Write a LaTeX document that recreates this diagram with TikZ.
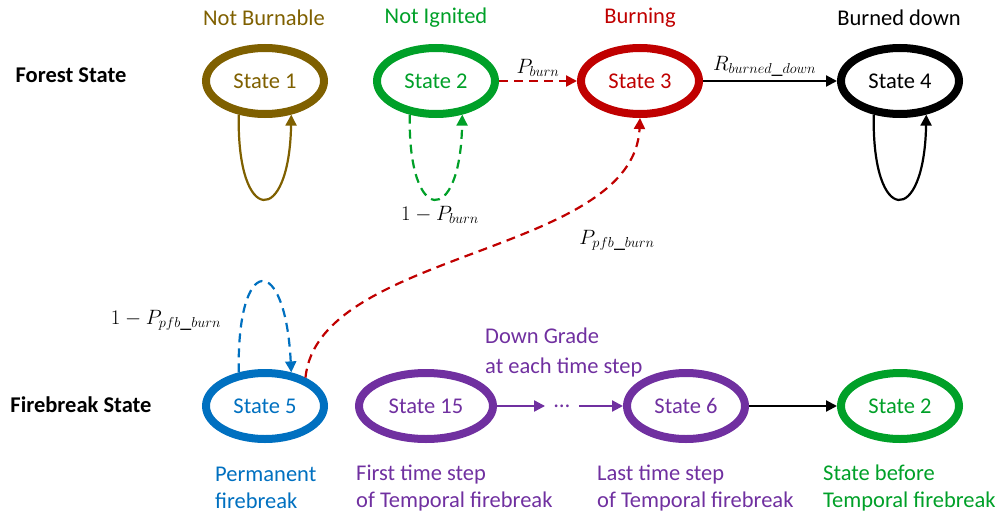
\documentclass[tikz,border=0pt]{standalone}
\usepackage{fontspec}
\setmainfont{Carlito}
\usetikzlibrary{shapes.geometric,arrows.meta}
\definecolor{cbrown}{RGB}{127,96,0}
\definecolor{cgreen}{RGB}{0,160,40}
\definecolor{cred}{RGB}{192,0,0}
\definecolor{cblue}{RGB}{0,112,192}
\definecolor{cpurple}{RGB}{112,48,160}
\begin{document}
\begin{tikzpicture}[x=1pt,y=-1pt,
  txt/.style={font=\fontsize{22.5}{27}\selectfont, inner sep=0pt},
  bold/.style={font=\fontsize{22.5}{27}\selectfont\bfseries, inner sep=0pt},
  st/.style={ellipse, draw=#1, text=#1, line width=8pt, minimum width=118pt, minimum height=66pt, inner sep=0pt, font=\fontsize{22.5}{27}\selectfont},
  mth/.style={font=\fontsize{22}{26}\selectfont, inner sep=0pt},
  conn/.style={line width=2.2pt, -{Triangle[length=11pt,width=11pt]}},
  dsh/.style={dash pattern=on 9pt off 6pt}
]
\useasboundingbox (0,0) rectangle (1003,516);
% states
\node[st=cbrown] (s1) at (265,81) {State 1};
\node[st=cgreen] (s2) at (436,81) {State 2};
\node[st=cred] (s3) at (640,81) {State 3};
\node[st=black] (s4) at (900,81) {State 4};
\node[st=cblue] (s5) at (265,406) {State 5};
\node[st=cpurple, minimum width=134pt] (s15) at (426,406) {State 15};
\node[st=cpurple] (s6) at (686,406) {State 6};
\node[st=cgreen] (s2b) at (900,406) {State 2};
% titles
\node[txt, text=cbrown] (t1) at (264,18) {Not Burnable};
\node[txt, text=cgreen] (t2) at (436,18) {Not Ignited};
\node[txt, text=cred] (t3) at (640,18) {Burning};
\node[txt] (t4) at (899,18) {Burned down};
\node[bold] (fs) at (71,75) {Forest State};
\node[bold] (fbs) at (81,405) {Firebreak State};
% top row connectors
\draw[conn, cred, dsh] (s2) -- node[mth, above=3pt, text=black] (lpb) {$P_{burn}$} (s3);
\draw[conn, black] (s3) -- node[mth, above=3pt, pos=0.46] (lrb) {$R_{burned\_down}$} (s4);
% self loops
\draw[conn, cbrown] (s1.232) .. controls +(-2,112) and +(-2,112) .. (s1.308);
\draw[conn, cgreen, dsh] (s2.232) .. controls +(-2,112) and +(-2,112) .. (s2.308);
\draw[conn, black] (s4.232) .. controls +(-2,112) and +(-2,112) .. (s4.308);
\draw[conn, cblue, dsh] (s5.128) .. controls +(-2,-120) and +(-6,-120) .. (s5.52);
\node[mth] (l2) at (440,215) {$1-P_{burn}$};
\node[mth] (l5) at (166,320) {$1-P_{pfb\_burn}$};
% cross connector
\draw[conn, cred, dsh] (s5.35) .. controls (318,250) and (634,255) .. (s3.south);
\node[mth] (lpp) at (617,240) {$P_{pfb\_burn}$};
% bottom row
\node[txt, inner sep=9pt, text=cpurple] (dots) at (562,406) {…};
\draw[conn, cpurple] (s15) -- (dots);
\draw[conn, cpurple] (dots) -- (s6);
\draw[conn, black] (s6) -- (s2b);
% text labels
\node[txt, text=cpurple, align=left, anchor=west] (dg) at (485,352) {Down Grade\\[3pt]at each time step};
\node[txt, text=cblue, align=left, anchor=west] (pf) at (215,488) {Permanent\\firebreak};
\node[txt, text=cpurple, align=left, anchor=west] (ft) at (356,488) {First time step\\of Temporal firebreak};
\node[txt, text=cpurple, align=left, anchor=west] (lt) at (597,488) {Last time step\\of Temporal firebreak};
\node[txt, text=cgreen, align=left, anchor=west] (sb) at (823,488) {State before\\Temporal firebreak};
\end{tikzpicture}
\end{document}
